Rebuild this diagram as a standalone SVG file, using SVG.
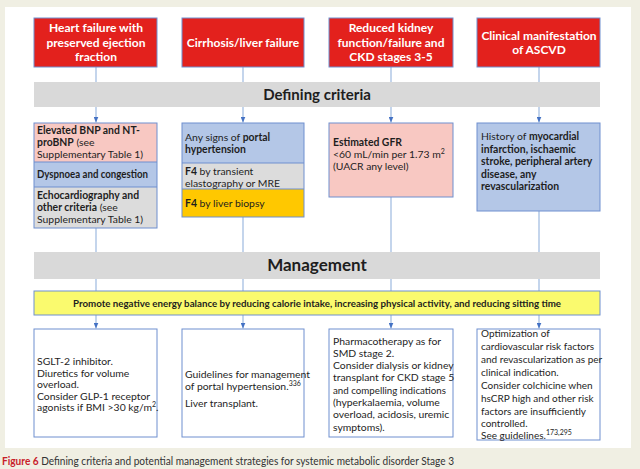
<svg xmlns="http://www.w3.org/2000/svg" width="640" height="469" viewBox="0 0 640 469">
<style>
text{font-family:Lato,"Open Sans","Liberation Sans",sans-serif;fill:#1e1e1e;font-size:10.4px}
.b{font-weight:bold}
.hd{fill:#e3211d;stroke:#6f8fcf;stroke-width:1}
.hdt{fill:#fff;font-weight:bold;font-size:12px;text-anchor:middle}
.band{fill:#d9d9d9}
.box{fill:none;stroke:#6f8fcf;stroke-width:1}
.pink{fill:#f8c8c2}
.blue{fill:#b4c7e7}
.gray{fill:#dcdcdc}
.orange{fill:#ffc800}
.con{stroke:#9db9df;stroke-width:1.2;fill:none}
.sm{font-size:10px}
.sup{font-size:7px}
</style>
<defs>
<marker id="ah" viewBox="0 0 6 5" refX="6" refY="2.5" markerWidth="6" markerHeight="5" orient="auto" markerUnits="userSpaceOnUse">
<path d="M0,0 L6,2.5 L0,5 Z" fill="#4472c4"/>
</marker>
</defs>
<rect x="0" y="0" width="640" height="469" fill="#f0efe3"/>
<rect x="5" y="7" width="626" height="441" fill="#fff"/>

<g id="connectors">
<path class="con" d="M96,67 V82 M243,67 V82 M391,67 V82 M539,67 V82"/>
<path class="con" d="M96,107 V122.5" marker-end="url(#ah)"/>
<path class="con" d="M243,107 V122.5" marker-end="url(#ah)"/>
<path class="con" d="M391,107 V122.5" marker-end="url(#ah)"/>
<path class="con" d="M539,107 V122.5" marker-end="url(#ah)"/>
<path class="con" d="M96,228 V252 M243,217 V252 M391,197 V252 M539,211 V252"/>
<path class="con" d="M96,279 V291 M243,279 V291 M391,279 V291 M539,279 V291"/>
<path class="con" d="M96,315 V328.5" marker-end="url(#ah)"/>
<path class="con" d="M243,315 V328.5" marker-end="url(#ah)"/>
<path class="con" d="M391,315 V328.5" marker-end="url(#ah)"/>
<path class="con" d="M539,315 V328.5" marker-end="url(#ah)"/>
</g>

<g id="hf-header">
<rect class="hd" x="34" y="18" width="123" height="49"/>
<text class="hdt" x="96" y="32">Heart failure with</text>
<text class="hdt" x="96" y="47">preserved ejection</text>
<text class="hdt" x="96" y="61">fraction</text>
</g>
<g id="liver-header">
<rect class="hd" x="182" y="18" width="122" height="49"/>
<text class="hdt" x="243" y="47">Cirrhosis/liver failure</text>
</g>
<g id="kidney-header">
<rect class="hd" x="329" y="18" width="124" height="49"/>
<text class="hdt" x="391" y="32">Reduced kidney</text>
<text class="hdt" x="391" y="47">function/failure and</text>
<text class="hdt" x="391" y="61">CKD stages 3-5</text>
</g>
<g id="ascvd-header">
<rect class="hd" x="477" y="18" width="123" height="49"/>
<text class="hdt" x="539" y="40">Clinical manifestation</text>
<text class="hdt" x="539" y="54">of ASCVD</text>
</g>

<g id="defining-criteria">
<rect class="band" x="34" y="82" width="566" height="25"/>
<text class="b" x="317" y="100" text-anchor="middle" style="font-size:15px">Defining criteria</text>
</g>

<g id="hf-criteria">
<rect class="pink" x="34" y="123" width="123" height="39"/>
<rect class="blue" x="34" y="162" width="123" height="25"/>
<rect class="gray" x="34" y="187" width="123" height="41"/>
<path class="box" d="M34,162 H157 M34,187 H157"/>
<rect class="box" x="34" y="123" width="123" height="105"/>
<text x="37" y="134" class="b">Elevated BNP and NT-</text>
<text x="37" y="146"><tspan class="b">proBNP</tspan> (see</text>
<text x="37" y="158">Supplementary Table 1)</text>
<text x="37" y="178" class="b" textLength="111" lengthAdjust="spacingAndGlyphs">Dyspnoea and congestion</text>
<text x="37" y="199" class="b">Echocardiography and</text>
<text x="37" y="211"><tspan class="b">other criteria</tspan> (see</text>
<text x="37" y="223">Supplementary Table 1)</text>
</g>

<g id="liver-criteria">
<rect class="blue" x="182" y="123" width="122" height="40"/>
<rect class="gray" x="182" y="163" width="122" height="26"/>
<rect class="orange" x="182" y="189" width="122" height="28"/>
<path class="box" d="M182,163 H304 M182,189 H304"/>
<rect class="box" x="182" y="123" width="122" height="94"/>
<text x="185" y="141">Any signs of <tspan class="b">portal</tspan></text>
<text x="185" y="153" class="b">hypertension</text>
<text x="185" y="175"><tspan class="b">F4</tspan> by transient</text>
<text x="185" y="187">elastography or MRE</text>
<text x="185" y="207"><tspan class="b">F4</tspan> by liver biopsy</text>
</g>

<g id="kidney-criteria">
<rect class="pink" x="329" y="123" width="124" height="74"/>
<rect class="box" x="329" y="123" width="124" height="74"/>
<text x="333" y="146" class="b">Estimated GFR</text>
<text x="333" y="158">&lt;60 mL/min per 1.73 m<tspan class="sup" dy="-4">2</tspan></text>
<text x="333" y="170">(UACR any level)</text>
</g>

<g id="ascvd-criteria">
<rect class="blue" x="477" y="123" width="123" height="88"/>
<rect class="box" x="477" y="123" width="123" height="88"/>
<text x="481" y="140">History of <tspan class="b">myocardial</tspan></text>
<text x="481" y="152.5" class="b">infarction, ischaemic</text>
<text x="481" y="165" class="b">stroke, peripheral artery</text>
<text x="481" y="177.5" class="b">disease, any</text>
<text x="481" y="190" class="b">revascularization</text>
</g>

<g id="management">
<rect class="band" x="34" y="252" width="566" height="27"/>
<text class="b" x="317" y="271" text-anchor="middle" style="font-size:17px">Management</text>
</g>

<g id="energy-balance">
<rect x="34" y="291" width="566" height="24" fill="#fafa6e" stroke="#6f8fcf" stroke-width="1"/>
<text class="b" x="317" y="307" text-anchor="middle" style="font-size:9.6px" textLength="488" lengthAdjust="spacingAndGlyphs">Promote negative energy balance by reducing calorie intake, increasing physical activity, and reducing sitting time</text>
</g>

<g id="hf-management">
<rect class="box" x="34" y="329" width="123" height="108"/>
<text x="37" y="365">SGLT-2 inhibitor.</text>
<text x="37" y="376.5">Diuretics for volume</text>
<text x="37" y="388">overload.</text>
<text x="37" y="399.5">Consider GLP-1 receptor</text>
<text x="37" y="411">agonists if BMI &gt;30 kg/m<tspan class="sup" dy="-4">2</tspan><tspan dy="4">.</tspan></text>
</g>

<g id="liver-management">
<rect class="box" x="182" y="329" width="122" height="108"/>
<text x="185" y="378">Guidelines for management</text>
<text x="185" y="390">of portal hypertension.<tspan class="sup" dy="-4">336</tspan></text>
<text x="185" y="407">Liver transplant.</text>
</g>

<g id="kidney-management">
<rect class="box" x="329" y="329" width="124" height="108"/>
<text x="333" y="344.5">Pharmacotherapy as for</text>
<text x="333" y="357">SMD stage 2.</text>
<text x="333" y="369">Consider dialysis or kidney</text>
<text x="333" y="381">transplant for CKD stage 5</text>
<text x="333" y="393.5" textLength="113" lengthAdjust="spacingAndGlyphs">and compelling indications</text>
<text x="333" y="406">(hyperkalaemia, volume</text>
<text x="333" y="418">overload, acidosis, uremic</text>
<text x="333" y="430.5">symptoms).</text>
</g>

<g id="ascvd-management">
<rect class="box" x="477" y="329" width="123" height="111"/>
<text class="sm" x="481" y="337">Optimization of</text>
<text class="sm" x="481" y="350">cardiovascular risk factors</text>
<text class="sm" x="481" y="363">and revascularization as per</text>
<text class="sm" x="481" y="376">clinical indication.</text>
<text class="sm" x="481" y="389">Consider colchicine when</text>
<text class="sm" x="481" y="402">hsCRP high and other risk</text>
<text class="sm" x="481" y="414.5">factors are insufficiently</text>
<text class="sm" x="481" y="427">controlled.</text>
<text class="sm" x="481" y="438.5">See guidelines.<tspan class="sup" dy="-4">173,295</tspan></text>
</g>

<g id="caption">
<text x="2" y="465" style="font-size:10.5px" textLength="452" lengthAdjust="spacingAndGlyphs"><tspan class="b" style="fill:#c8202a">Figure 6</tspan><tspan style="fill:#333"> Defining criteria and potential management strategies for systemic metabolic disorder Stage 3</tspan></text>
</g>
</svg>
